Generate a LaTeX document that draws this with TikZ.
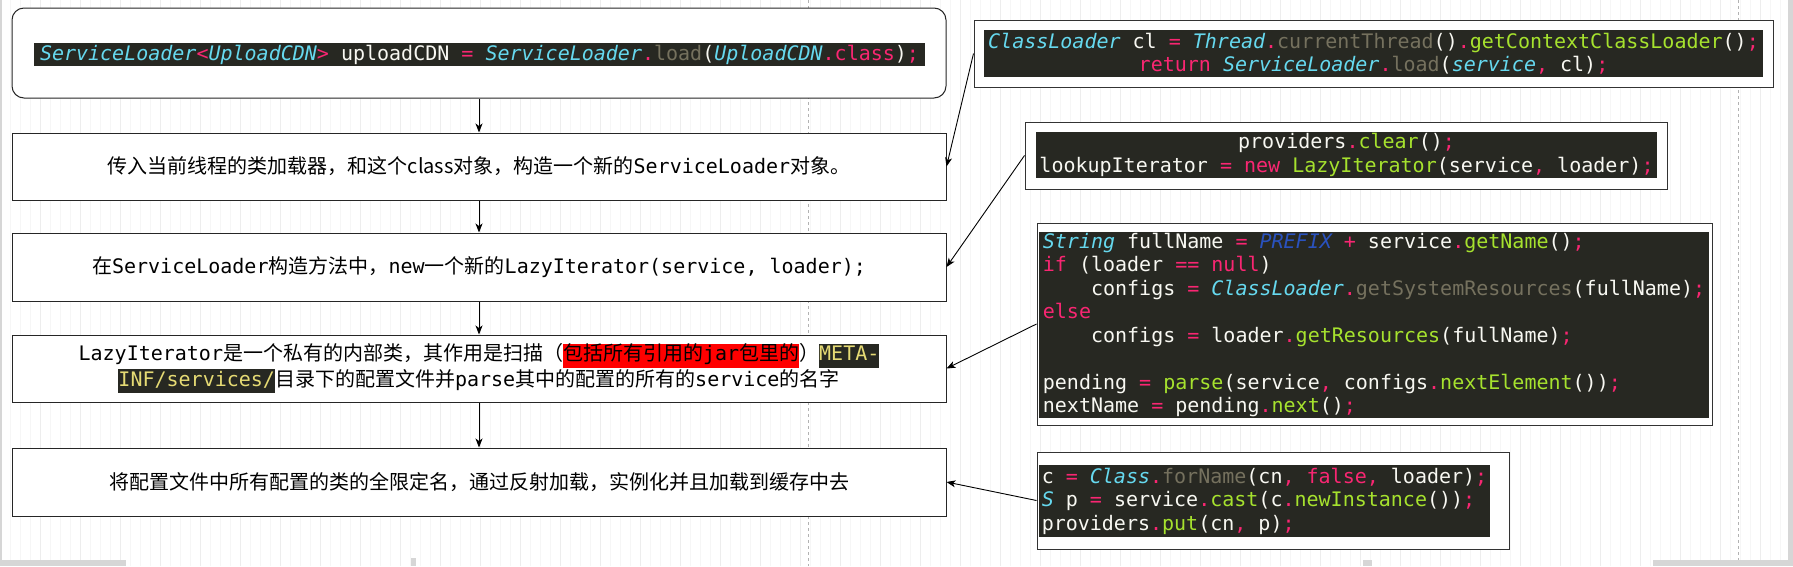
\documentclass[tikz,border=0pt]{standalone}
\usepackage{fontspec}
\setmonofont{DejaVu Sans Mono}
\newfontfamily\cjk{Noto Sans CJK SC}
\usetikzlibrary{arrows.meta}
\definecolor{mkbg}{HTML}{272822}
\definecolor{mkfg}{HTML}{F8F8F2}
\definecolor{mkcyan}{HTML}{66D9EF}
\definecolor{mkpink}{HTML}{F92672}
\definecolor{mkgreen}{HTML}{A6E22E}
\definecolor{mkgray}{HTML}{75715E}
\definecolor{mkblue}{HTML}{2A52BE}
\definecolor{mkyellow}{HTML}{E6DB74}
\definecolor{uigray}{HTML}{D6D6D6}
% code colouring
\newcommand\ty[1]{\textcolor{mkcyan}{\itshape #1}}
\newcommand\kw[1]{\textcolor{mkpink}{#1}}
\newcommand\fn[1]{\textcolor{mkgreen}{#1}}
\newcommand\gm[1]{\textcolor{mkgray}{#1}}
\newcommand\ind{\phantom{0000}}
\newcommand\hl[3]{{\setlength\fboxsep{0pt}\colorbox{#1}{\strut\textcolor{#2}{#3}}}}
\begin{document}
\begin{tikzpicture}[x=1pt,y=-1pt,
  stepbox/.style={draw=black!85,line width=1pt,fill=white,minimum width=934pt,
    align=center,inner sep=0pt,font=\cjk\fontsize{20}{24}\selectfont},
  codebox/.style={draw=black!80,line width=1pt,fill=white,inner sep=0pt},
  codeband/.style={fill=mkbg,text=mkfg,inner sep=0pt,
    font=\ttfamily\fontsize{20}{23.5}\selectfont},
  link/.style={-{Stealth[length=9pt,width=7pt,inset=2.5pt]},line width=0.9pt,black}]
\useasboundingbox (0,0) rectangle (1793,566);
\fill[white] (0,0) rectangle (1793,566);
\draw[step=10,gray!7,line width=0.6pt] (0,0) grid (1793,566);
\draw[step=40,gray!14,line width=0.6pt] (0,0) grid (1793,566);
\draw[gray!60,dash pattern=on 3pt off 3pt,line width=0.6pt] (808,0) -- (808,566);
\draw[gray!60,dash pattern=on 3pt off 3pt,line width=0.6pt] (1738,0) -- (1738,566);

% main steps
\node[stepbox,rounded corners=12pt,minimum height=90pt] (S0) at (479,53) {};
\node[codeband,minimum width=891pt,minimum height=23pt] (B0) at (479.5,54.5)
  {\ty{ServiceLoader}\kw{<}\ty{UploadCDN}\kw{>} uploadCDN \kw{=} \ty{ServiceLoader}\kw{.}\gm{load}(\ty{UploadCDN}\kw{.class})\kw{;}};
\node[stepbox,minimum height=67pt] (S1) at (479,166.5)
  {传入当前线程的类加载器，和这个class对象，构造一个新的\texttt{ServiceLoader}对象。};
\node[stepbox,minimum height=68pt] (S2) at (479,267)
  {在\texttt{ServiceLoader}构造方法中，\texttt{new}一个新的\texttt{LazyIterator(service, loader);}};
\node[stepbox,minimum height=67pt] (S3) at (479,368.5)
  {\texttt{LazyIterator}是一个私有的内部类，其作用是扫描（\hl{red}{black}{包括所有引用的\texttt{jar}包里的}）\hl{mkbg}{mkyellow}{\texttt{META-}}\\
   \hl{mkbg}{mkyellow}{\texttt{INF/services/}}目录下的配置文件并\texttt{parse}其中的配置的所有的\texttt{service}的名字};
\node[stepbox,minimum height=68pt] (S4) at (479,482)
  {将配置文件中所有配置的类的全限定名，通过反射加载，实例化并且加载到缓存中去};

% code snippets
\node[codebox,minimum width=799pt,minimum height=67pt] (C1) at (1373.5,53.5) {};
\node[codeband,align=center,minimum width=779pt,minimum height=47pt] (B1) at (1373.5,53.5)
  {\ty{ClassLoader} cl \kw{=} \ty{Thread}\kw{.}\gm{currentThread}()\kw{.}\fn{getContextClassLoader}()\kw{;}\\
   \kw{return} \ty{ServiceLoader}\kw{.}\gm{load}(\ty{service}\kw{,} cl)\kw{;}};
\node[codebox,minimum width=642pt,minimum height=67pt] (C2) at (1346,155.5) {};
\node[codeband,align=center,minimum width=621pt,minimum height=46pt] (B2) at (1346.5,155)
  {providers\kw{.}\fn{clear}()\kw{;}\\
   lookupIterator \kw{=} \kw{new} \fn{LazyIterator}(service\kw{,} loader)\kw{;}};
\node[codebox,minimum width=675pt,minimum height=202pt] (C3) at (1374.5,324) {};
\node[codeband,align=left,minimum width=670pt,minimum height=186pt] (B3) at (1374,325)
  {\ty{String} fullName \kw{=} \textcolor{mkblue}{\itshape PREFIX} \kw{+} service\kw{.}\fn{getName}()\kw{;}\\
   \kw{if} (loader \kw{==} \kw{null})\\
   \ind configs \kw{=} \ty{ClassLoader}\kw{.}\gm{getSystemResources}(fullName)\kw{;}\\
   \kw{else}\\
   \ind configs \kw{=} loader\kw{.}\fn{getResources}(fullName)\kw{;}\\
   \mbox{}\\
   pending \kw{=} \fn{parse}(service\kw{,} configs\kw{.}\fn{nextElement}())\kw{;}\\
   nextName \kw{=} pending\kw{.}\fn{next}()\kw{;}};
\node[codebox,minimum width=472pt,minimum height=97pt] (C4) at (1273,500.5) {};
\node[codeband,align=left,minimum width=451pt,minimum height=72pt] (B4) at (1264.5,501)
  {c \kw{=} \ty{Class}\kw{.}\gm{forName}(cn\kw{,} \kw{false}\kw{,} loader)\kw{;}\\
   \ty{S} p \kw{=} service\kw{.}\fn{cast}(c\kw{.}\fn{newInstance}())\kw{;}\\
   providers\kw{.}\fn{put}(cn\kw{,} p)\kw{;}};

% flow
\draw[link] (S0) -- (S1);
\draw[link] (S1) -- (S2);
\draw[link] (S2) -- (S3);
\draw[link] (S3) -- (S4);
\draw[link] (C1.west) -- (S1.east);
\draw[link] (C2.west) -- (S2.east);
\draw[link] (C3.west) -- (S3.east);
\draw[link] (C4.west) -- (S4.east);

% window edges
\fill[uigray] (1788,0) rectangle (1793,566);
\fill[uigray] (0,0) rectangle (2,560);
\fill[uigray] (0,560) rectangle (126,566);
\fill[uigray] (411,558) rectangle (416,566);
\fill[uigray] (1363,560) rectangle (1372,566);
\fill[uigray] (1653,560) rectangle (1793,566);
\end{tikzpicture}
\end{document}
